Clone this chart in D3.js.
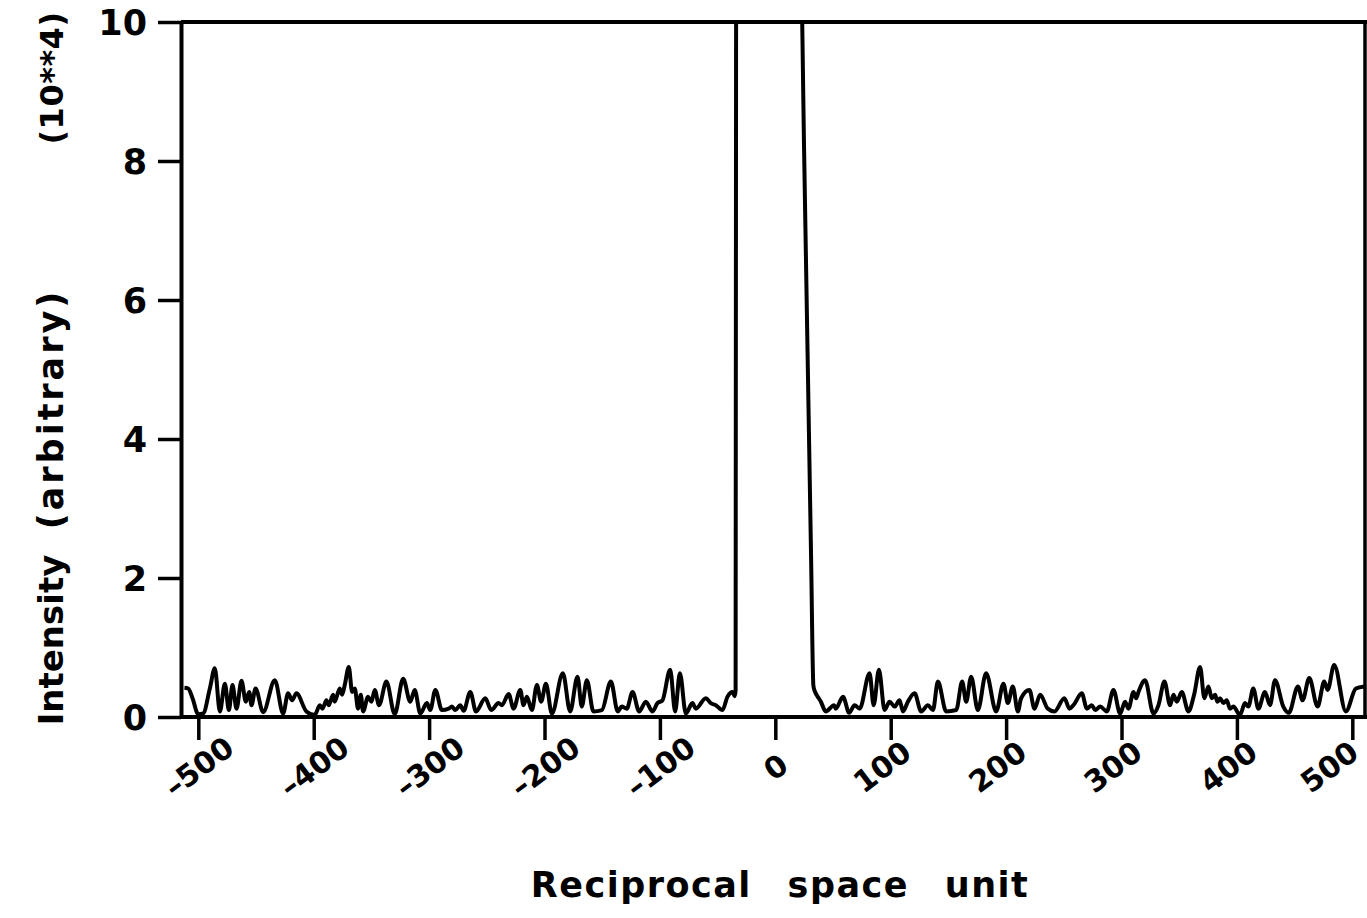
<!DOCTYPE html>
<html>
<head>
<meta charset="utf-8">
<script src="https://cdn.jsdelivr.net/npm/d3@7"></script>
<style>
  html, body { margin: 0; padding: 0; background: #fff; }
  svg { display: block; }
  text { font-family: "DejaVu Sans", "Liberation Sans", sans-serif; font-weight: bold; fill: #000; }
</style>
</head>
<body>
<svg id="chart" width="1367" height="918"></svg>
<script>
// ---- data (reciprocal space unit, intensity in units of 10**4) ----
const sampleX = [
  -512, -508.7, -505.0, -500.1, -495.8, -490.0, -485.7, -481.3, -477.0, -473.5,
  -470.4, -466.9, -462.6, -458.8, -455.9, -453.9, -450.4, -443.8, -433.7, -426.5,
  -422.2, -418.7, -415.0, -406.3, -399.1, -394.7, -392.4, -389.0, -386.9, -383.2,
  -381.8, -377.4, -375.4, -373.1, -369.6, -366.7, -364.4, -361.6, -359.2, -357.2,
  -352.9, -350.0, -347.1, -343.4, -337.0, -329.8, -322.5, -316.3, -312.5, -307.6,
  -301.9, -299.0, -294.6, -288.9, -283.1, -280.2, -277.3, -273.0, -270.1, -264.3,
  -259.4, -251.3, -246.2, -239.8, -236.9, -231.1, -226.8, -221.0, -218.2, -215.3,
  -210.9, -206.6, -202.9, -198.8, -193.6, -184.1, -177.8, -171.4, -167.7, -163.3,
  -157.6, -150.3, -142.5, -136.5, -133.0, -128.7, -123.7, -118.0, -112.2, -106.4,
  -102.1, -97.8, -91.1, -86.8, -82.7, -77.5, -71.8, -68.9, -60.2, -55.9,
  -51.6, -45.8, -41.5, -37.1, -35.2, -34.4, -33.9, 0, 22, 25,
  28, 31, 33, 34.5, 36.5, 39.5, 43.7, 50.9, 52.3, 58.7,
  64, 68.7, 73.1, 81.7, 85.2, 89.8, 94.7, 99.0, 103.4, 107.7,
  110.6, 114.9, 120.7, 126.4, 132.2, 136.6, 140.9, 148.1, 156.8, 161.9,
  165.4, 169.7, 175.5, 182.7, 191.4, 197.7, 201.5, 205.8, 210.2, 213.0,
  220.2, 224.6, 229.5, 236.1, 241.9, 250.5, 254.9, 258.8, 265.6, 270.0,
  274.3, 277.2, 281.5, 287.3, 293.0, 298.8, 303.1, 306.0, 310.4, 312.7,
  314.7, 320.4, 327.7, 332.0, 337.2, 342.1, 345.0, 347.9, 352.2, 358.0,
  362.9, 368.1, 371.8, 375.3, 378.2, 381.1, 383.1, 385.4, 388.3, 391.2,
  394.0, 396.9, 402.7, 407.0, 409.9, 414.2, 418.6, 424.3, 428.7, 433.0,
  440.2, 445.0, 452.9, 456.9, 462.7, 469.9, 475.7, 478.6, 484.3, 494.4,
  503.1, 510.3
];
const intensity = [
  0.42, 0.41, 0.27, 0.04, 0.05, 0.41, 0.70, 0.08, 0.48, 0.10,
  0.46, 0.12, 0.52, 0.22, 0.36, 0.17, 0.41, 0.07, 0.53, 0.05,
  0.34, 0.24, 0.34, 0.08, 0.03, 0.17, 0.12, 0.24, 0.17, 0.32,
  0.22, 0.41, 0.32, 0.46, 0.72, 0.36, 0.41, 0.12, 0.32, 0.08,
  0.29, 0.22, 0.39, 0.17, 0.51, 0.04, 0.55, 0.22, 0.39, 0.05,
  0.20, 0.10, 0.39, 0.10, 0.12, 0.15, 0.10, 0.17, 0.09, 0.36,
  0.08, 0.27, 0.10, 0.20, 0.17, 0.33, 0.12, 0.39, 0.17, 0.29,
  0.10, 0.46, 0.22, 0.48, 0.05, 0.63, 0.08, 0.58, 0.15, 0.53,
  0.08, 0.10, 0.51, 0.08, 0.15, 0.12, 0.36, 0.08, 0.22, 0.08,
  0.20, 0.24, 0.68, 0.08, 0.63, 0.05, 0.20, 0.12, 0.27, 0.20,
  0.17, 0.10, 0.29, 0.36, 0.30, 0.38, 12, 14, 11, 8.1,
  5.2, 2.3, 0.45, 0.36, 0.30, 0.22, 0.08, 0.17, 0.12, 0.29,
  0.06, 0.17, 0.12, 0.63, 0.17, 0.68, 0.10, 0.22, 0.15, 0.24,
  0.08, 0.22, 0.34, 0.08, 0.17, 0.10, 0.51, 0.08, 0.10, 0.51,
  0.22, 0.58, 0.10, 0.63, 0.08, 0.48, 0.20, 0.44, 0.08, 0.27,
  0.39, 0.12, 0.32, 0.12, 0.08, 0.27, 0.12, 0.18, 0.34, 0.12,
  0.17, 0.10, 0.15, 0.08, 0.39, 0.05, 0.22, 0.12, 0.36, 0.27,
  0.36, 0.53, 0.05, 0.17, 0.51, 0.17, 0.32, 0.22, 0.36, 0.08,
  0.32, 0.72, 0.27, 0.44, 0.27, 0.32, 0.22, 0.27, 0.20, 0.24,
  0.12, 0.15, 0.03, 0.20, 0.15, 0.41, 0.12, 0.36, 0.17, 0.53,
  0.15, 0.06, 0.44, 0.24, 0.56, 0.15, 0.51, 0.39, 0.75, 0.08,
  0.41, 0.44
];
const xTicks = [-500, -400, -300, -200, -100, 0, 100, 200, 300, 400, 500];
const yTicks = [0, 2, 4, 6, 8, 10];
const xDomain = [-515, 511];
const yDomain = [0, 10];
const xTitle = "Reciprocal space unit";
const yTitleParts = ["Intensity", "(arbitrary)", "(10**4)"];

// ---- layout ----
const svg = d3.select("#chart");
const W = 1367;
const plotLeft = 181, plotRight = 1365, plotTop = 22, plotBottom = 717;
const x = d3.scaleLinear().domain(xDomain).range([plotLeft, plotRight]);
const y = d3.scaleLinear().domain(yDomain).range([plotBottom, plotTop]);

svg.append("defs").append("clipPath").attr("id", "plotclip")
  .append("rect").attr("x", plotLeft).attr("y", plotTop - 2)
  .attr("width", plotRight - plotLeft).attr("height", plotBottom - plotTop + 2);

// frame
svg.append("line").attr("x1", plotLeft).attr("x2", W).attr("y1", plotTop).attr("y2", plotTop)
  .attr("stroke", "#000").attr("stroke-width", 4);
svg.append("line").attr("x1", plotRight).attr("x2", plotRight).attr("y1", plotTop).attr("y2", plotBottom)
  .attr("stroke", "#000").attr("stroke-width", 3.5);

// x axis
const xAxis = svg.append("g").attr("transform", `translate(0,${plotBottom})`)
  .call(d3.axisBottom(x).tickValues(xTicks).tickSize(23).tickSizeOuter(0).tickFormat(d3.format("d")));
xAxis.select(".domain").attr("stroke-width", 4).attr("d", `M${plotLeft},0H${W}`);
xAxis.selectAll(".tick line").attr("stroke-width", 3.5);
xAxis.selectAll(".tick text")
  .attr("y", null).attr("dy", null)
  .attr("text-anchor", "middle")
  .attr("dominant-baseline", "central")
  .style("font-size", "30px")
  .text(d => d < 0 ? "\u2013" + Math.abs(d) : String(d))
  .each(function(d) {
    const base = d > 0 ? -9 : 0;
    const sel = d3.select(this);
    sel.attr("transform", `translate(${base},50) rotate(-37)`);
    const r = this.getBoundingClientRect();
    const over = r.right - (W - 2);
    if (over > 0) sel.attr("transform", `translate(${base - over},50) rotate(-37)`);
  });

// y axis
const yAxis = svg.append("g").attr("transform", `translate(${plotLeft},0)`)
  .call(d3.axisLeft(y).tickValues(yTicks).tickSize(23).tickSizeOuter(0).tickPadding(11).tickFormat(d3.format("d")));
yAxis.select(".domain").attr("stroke-width", 4);
yAxis.selectAll(".tick line").attr("stroke-width", 3.5);
yAxis.selectAll(".tick text").style("font-size", "35px").attr("dy", "0.36em");

// data line
const pts = sampleX.map((v, i) => [v, intensity[i]]);
svg.append("path")
  .datum(pts)
  .attr("clip-path", "url(#plotclip)")
  .attr("fill", "none")
  .attr("stroke", "#000")
  .attr("stroke-width", 4)
  .attr("stroke-linejoin", "round")
  .attr("d", d3.line().x(d => x(d[0])).y(d => y(d[1])).curve(d3.curveMonotoneX));

// titles
svg.append("text")
  .attr("x", 780).attr("y", 897)
  .attr("text-anchor", "middle")
  .style("font-size", "35px")
  .style("letter-spacing", "1.5px")
  .style("word-spacing", "22px")
  .text(xTitle);

const yTitleCenters = [640, 409, 78];
const yTitleSizes = [34, 35, 32];
const yTitleSpacing = [0, 3, 0.5];
yTitleParts.forEach((t, i) => {
  svg.append("text")
    .attr("transform", `translate(63,${yTitleCenters[i]}) rotate(-90)`)
    .attr("text-anchor", "middle")
    .style("font-size", yTitleSizes[i] + "px")
    .style("letter-spacing", yTitleSpacing[i] + "px")
    .text(t);
});
</script>
</body>
</html>
